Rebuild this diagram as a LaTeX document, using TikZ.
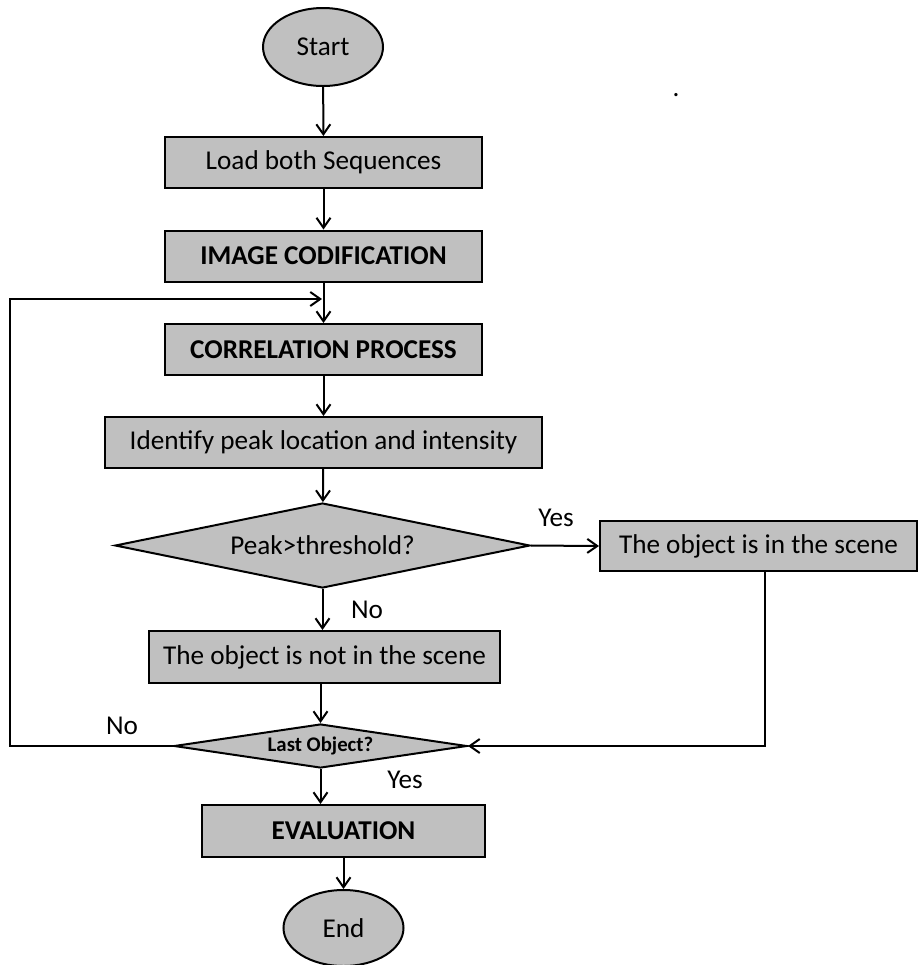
\documentclass[tikz,border=0pt]{standalone}
\usepackage{fontspec}
\setmainfont{Carlito}
\usetikzlibrary{shapes.geometric, arrows.meta}
\definecolor{BoxGray}{RGB}{192, 192, 192}

\tikzset{
    procbox/.style={draw, line width=1pt, fill=BoxGray, rectangle, inner sep=0pt,
        minimum height=25.5pt, font=\fontsize{13.6}{15}\selectfont},
    termbox/.style={draw, line width=1pt, fill=BoxGray, ellipse, inner sep=0pt,
        minimum width=60pt, minimum height=39pt, font=\fontsize{13.6}{15}\selectfont},
    testbox/.style={draw, line width=1pt, fill=BoxGray, diamond, inner sep=0pt},
    flow/.style={line width=1pt, -{Straight Barb[length=5pt, width=7pt]}},
    answer/.style={font=\fontsize{13.6}{15}\selectfont}
}

\begin{document}
\begin{tikzpicture}[x=0.5pt, y=-0.5pt]
    \useasboundingbox (0,0) rectangle (917,965);

    % Main column
    \node[termbox] (start) at (323,47) {Start};
    \node[procbox, minimum width=158.5pt] (load) at (323.5,162.5) {Load both Sequences};
    \node[procbox, minimum width=158.5pt, font=\fontsize{13.6}{15}\selectfont\bfseries] (codif) at (323.5,256) {IMAGE CODIFICATION};
    \node[procbox, minimum width=158.5pt, font=\fontsize{13.6}{15}\selectfont\bfseries] (corr) at (323.5,349.5) {CORRELATION PROCESS};
    \node[procbox, minimum width=218.5pt] (ident) at (323.5,442.5) {Identify peak location and intensity};
    \node[testbox, aspect=4.9, minimum width=207.5pt, minimum height=42.5pt,
        font=\fontsize{13.6}{15}\selectfont] (peak) at (322.5,545.5) {Peak>threshold?};
    \node[procbox, minimum width=158.5pt, minimum height=25pt] (inscene) at (758.5,546) {The object is in the scene};
    \node[procbox, minimum width=175.5pt, minimum height=26pt] (notscene) at (324.5,657) {The object is not in the scene};
    \node[testbox, aspect=6.7, minimum width=146.5pt, minimum height=22pt,
        font=\fontsize{10.4}{12}\selectfont\bfseries] (last) at (320.5,746) {Last Object?};
    \node[procbox, minimum width=141.5pt, minimum height=26pt, font=\fontsize{13.6}{15}\selectfont\bfseries] (eval) at (343.5,831) {EVALUATION};
    \node[termbox, minimum height=38pt] (finish) at (343.5,928) {End};

    % Labels
    \node[answer] (yesA) at (556,518) {Yes};
    \node[answer] (noA) at (367,610) {No};
    \node[answer] (noB) at (122,726) {No};
    \node[answer] (yesB) at (405,780) {Yes};
    \node[answer, inner sep=0pt] (spot) at (676,95) {.};

    % Loop back
    \coordinate (back) at (10,299);
    \coordinate (join) at (322,299);

    % Connectors
    \draw[flow] (start) -- (load);
    \draw[flow] (load) -- (codif);
    \draw[flow] (codif) -- (corr);
    \draw[flow] (corr) -- (ident);
    \draw[flow] (ident) -- (peak);
    \draw[flow] (peak.east) -- (inscene.west);
    \draw[flow] (peak.south) -- (peak.south |- notscene.north);
    \draw[flow] (notscene.south -| last.north) -- (last.north);
    \draw[flow] ([xshift=3pt]inscene.south) |- (last.east);
    \draw[flow] (last.south) -- (last.south |- eval.north);
    \draw[flow] (eval) -- (finish);
    \draw[flow] (last.west) -| (back) -- (join);
\end{tikzpicture}
\end{document}
